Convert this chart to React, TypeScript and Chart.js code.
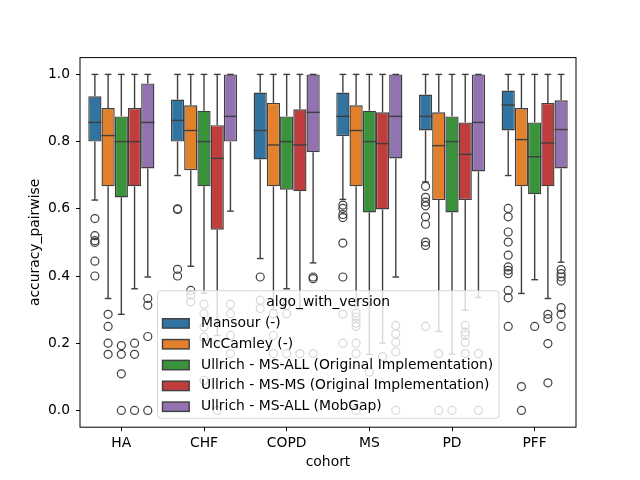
import React, { useEffect, useRef } from "react";
import { Chart, registerables } from "chart.js";

Chart.register(...registerables);

const cohorts = ["HA", "CHF", "COPD", "MS", "PD", "PFF"];
const algorithms = [
  "Mansour (-)",
  "McCamley (-)",
  "Ullrich - MS-ALL (Original Implementation)",
  "Ullrich - MS-MS (Original Implementation)",
  "Ullrich - MS-ALL (MobGap)",
];
const colors = ["#3274a1", "#e1812c", "#3a923a", "#c03d3e", "#9372b2"];
const yTickValues = [0, 0.2, 0.4, 0.6, 0.8, 1.0];

// rows: algorithm, columns: cohort
const lowerWhisker = [
  [0.626, 0.699, 0.452, 0.628, 0.68, 0.699],
  [0.333, 0.429, 0.3, 0.31, 0.235, 0.348],
  [0.286, 0.349, 0.362, 0.167, 0.167, 0.389],
  [0.362, 0.223, 0.3, 0.2, 0.298, 0.333],
  [0.397, 0.593, 0.439, 0.397, 0.336, 0.441],
];
const q1 = [
  [0.8, 0.8, 0.747, 0.816, 0.833, 0.833],
  [0.667, 0.715, 0.667, 0.667, 0.626, 0.667],
  [0.634, 0.667, 0.657, 0.589, 0.589, 0.643],
  [0.667, 0.538, 0.652, 0.598, 0.626, 0.667],
  [0.72, 0.8, 0.768, 0.75, 0.711, 0.72],
];
const median = [
  [0.857, 0.863, 0.833, 0.875, 0.875, 0.909],
  [0.818, 0.833, 0.79, 0.833, 0.788, 0.806],
  [0.8, 0.8, 0.8, 0.8, 0.8, 0.755],
  [0.8, 0.75, 0.79, 0.794, 0.762, 0.796],
  [0.857, 0.875, 0.887, 0.875, 0.857, 0.836],
];
const q3 = [
  [0.935, 0.925, 0.946, 0.946, 0.94, 0.952],
  [0.9, 0.908, 0.915, 0.908, 0.887, 0.9],
  [0.875, 0.892, 0.875, 0.892, 0.875, 0.857],
  [0.9, 0.849, 0.896, 0.887, 0.857, 0.915],
  [0.973, 1.0, 1.0, 1.0, 1.0, 0.923],
];
const upperWhisker = [
  [1, 1, 1, 1, 1, 1],
  [1, 1, 1, 1, 1, 1],
  [1, 1, 1, 1, 1, 1],
  [1, 1, 1, 1, 1, 1],
  [1, 1, 1, 1, 1, 1],
];
const mansourOutliers = [
  [0.571, 0.52, 0.505, 0.5, 0.444, 0.4],
  [0.6, 0.598, 0.42, 0.4],
  [0.397, 0.328, 0.303],
  [0.611, 0.601, 0.583, 0.574, 0.498, 0.397, 0.286, 0.2],
  [0.667, 0.634, 0.62, 0.609, 0.576, 0.554, 0.501, 0.491, 0.25],
  [0.601, 0.576, 0.531, 0.501, 0.462, 0.427, 0.417, 0.407, 0.357, 0.335, 0.25],
];
const mccamleyOutliers = [
  [0.286, 0.25, 0.2, 0.167],
  [0.357, 0.343, 0.323],
  [0.288, 0.223, 0.169],
  [0.29, 0.278, 0.26, 0.25, 0.2, 0.169, 0.0],
  [0.169, 0.0],
  [0.071, 0.0],
];
const msAllOrigOutliers = [
  [0.193, 0.167, 0.109, 0.0],
  [0.316, 0.288, 0.248, 0.218, 0.089],
  [0.313, 0.288, 0.169],
  [0.114],
  [0.0],
  [0.25],
];
const msMsOutliers = [
  [0.2, 0.167, 0.0],
  [0.0],
  [0.169],
  [0.16],
  [0.253, 0.233, 0.223, 0.203, 0.169],
  [0.286, 0.273, 0.199, 0.082],
];
const mobgapOutliers = [
  [0.333, 0.313, 0.22, 0.0],
  [0.316, 0.288, 0.223, 0.169],
  [0.397, 0.392, 0.169],
  [0.253, 0.228, 0.203, 0.174, 0.0],
  [0.169, 0.0],
  [0.419, 0.407, 0.397, 0.385, 0.306, 0.286, 0.25],
];
const outliers = [mansourOutliers, mccamleyOutliers, msAllOrigOutliers, msMsOutliers, mobgapOutliers];

const LINE = "#3f3f3f";
const LW = 1.4;
const FONT = "DejaVu Sans";
const FS = 13.89;

const boxPlugin = {
  id: "boxExtras",
  afterDatasetsDraw(chart: any) {
    const ctx = chart.ctx;
    const y = chart.scales.y;
    ctx.save();
    ctx.strokeStyle = LINE;
    ctx.lineWidth = LW;
    const line = (x1: number, y1: number, x2: number, y2: number) => {
      ctx.beginPath();
      ctx.moveTo(x1, y1);
      ctx.lineTo(x2, y2);
      ctx.stroke();
    };
    algorithms.forEach((_, a) => {
      const meta = chart.getDatasetMeta(a);
      meta.data.forEach((bar: any, c: number) => {
        const { x, width } = bar.getProps(["x", "width"], true);
        const yl = y.getPixelForValue(lowerWhisker[a][c]);
        const y1 = y.getPixelForValue(q1[a][c]);
        const ym = y.getPixelForValue(median[a][c]);
        const y3 = y.getPixelForValue(q3[a][c]);
        const yh = y.getPixelForValue(upperWhisker[a][c]);
        line(x, y1, x, yl);
        line(x, y3, x, yh);
        line(x - width * 0.25, yl, x + width * 0.25, yl);
        line(x - width * 0.25, yh, x + width * 0.25, yh);
        line(x - width / 2, ym, x + width / 2, ym);
        ctx.lineWidth = 1.2;
        outliers[a][c].forEach((v) => {
          ctx.beginPath();
          ctx.arc(x, y.getPixelForValue(v), 4, 0, Math.PI * 2);
          ctx.stroke();
        });
        ctx.lineWidth = LW;
      });
    });
    ctx.restore();
  },
  afterDraw(chart: any) {
    const ctx = chart.ctx;
    const { left, right, top, bottom } = chart.chartArea;
    ctx.save();
    // frame
    ctx.strokeStyle = "#000";
    ctx.lineWidth = 1;
    ctx.strokeRect(left, top, right - left, bottom - top);
    // legend
    const lx = 157.5, ly = 290.7, lw = 341.5, lh = 127.6, r = 3;
    ctx.beginPath();
    ctx.moveTo(lx + r, ly);
    ctx.lineTo(lx + lw - r, ly);
    ctx.quadraticCurveTo(lx + lw, ly, lx + lw, ly + r);
    ctx.lineTo(lx + lw, ly + lh - r);
    ctx.quadraticCurveTo(lx + lw, ly + lh, lx + lw - r, ly + lh);
    ctx.lineTo(lx + r, ly + lh);
    ctx.quadraticCurveTo(lx, ly + lh, lx, ly + lh - r);
    ctx.lineTo(lx, ly + r);
    ctx.quadraticCurveTo(lx, ly, lx + r, ly);
    ctx.closePath();
    ctx.fillStyle = "rgba(255,255,255,0.8)";
    ctx.fill();
    ctx.strokeStyle = "rgba(204,204,204,0.8)";
    ctx.lineWidth = 1;
    ctx.stroke();
    ctx.font = `${FS}px "${FONT}"`;
    ctx.fillStyle = "#000";
    ctx.textBaseline = "middle";
    ctx.textAlign = "center";
    ctx.fillText("algo_with_version", lx + lw / 2, 302.7);
    ctx.textAlign = "left";
    algorithms.forEach((name, i) => {
      const cy = 323.4 + i * 20.83;
      ctx.fillStyle = colors[i];
      ctx.fillRect(162.5, cy - 4.7, 26.7, 9.4);
      ctx.strokeStyle = LINE;
      ctx.lineWidth = LW;
      ctx.strokeRect(162.5, cy - 4.7, 26.7, 9.4);
      ctx.fillStyle = "#000";
      ctx.fillText(name, 201, cy);
    });
    ctx.restore();
  },
};

export default function App() {
  const ref = useRef<HTMLCanvasElement>(null);
  useEffect(() => {
    document.body.style.margin = "0";
    const canvas = ref.current!;
    const chart = new Chart(canvas, {
      type: "bar",
      data: {
        labels: cohorts,
        datasets: algorithms.map((name, a) => ({
          label: name,
          data: cohorts.map((_, c) => [q1[a][c], q3[a][c]]),
          backgroundColor: colors[a],
          borderColor: LINE,
          borderWidth: LW,
          borderSkipped: false,
          categoryPercentage: 0.8,
          barPercentage: 1.0,
        })),
      },
      options: {
        responsive: false,
        animation: false,
        events: [],
        layout: { padding: { top: 57.6, right: 64, left: 0, bottom: 0 } },
        plugins: { legend: { display: false }, tooltip: { enabled: false } },
        scales: {
          x: {
            type: "category",
            offset: true,
            grid: { offset: false, drawOnChartArea: false, drawTicks: true, tickLength: 4, color: "#000", tickColor: "#000" },
            border: { display: false },
            ticks: { color: "#000", font: { family: FONT, size: FS }, padding: 4, maxRotation: 0 },
            title: { display: true, text: "cohort", color: "#000", font: { family: FONT, size: FS }, padding: { top: 0, bottom: 9.6 } },
            afterFit: (s: any) => { s.height = 52.8; },
          },
          y: {
            type: "linear",
            min: -0.05,
            max: 1.05,
            grid: { drawOnChartArea: false, drawTicks: true, tickLength: 4, color: "#000", tickColor: "#000" },
            border: { display: false },
            ticks: { color: "#000", font: { family: FONT, size: FS }, padding: 6, callback: (v: any) => Number(v).toFixed(1) },
            afterBuildTicks: (s: any) => { s.ticks = yTickValues.map((v) => ({ value: v })); },
            title: { display: true, text: "accuracy_pairwise", color: "#000", font: { family: FONT, size: FS }, padding: { top: 27.4, bottom: 0 } },
            afterFit: (s: any) => { s.width = 80; },
          },
        },
      },
      plugins: [boxPlugin],
    } as any);
    return () => chart.destroy();
  }, []);
  return (
    <div style={{ position: "absolute", left: 0, top: 0, width: 640, height: 480, background: "#fff" }}>
      <canvas ref={ref} width={640} height={480} />
    </div>
  );
}
